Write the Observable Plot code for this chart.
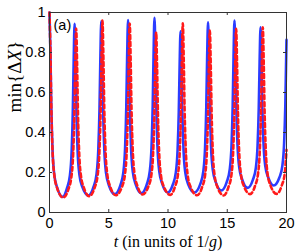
<!DOCTYPE html>
<html><head><meta charset="utf-8">
<script src="https://cdn.jsdelivr.net/npm/d3@7"></script>
<script src="https://cdn.jsdelivr.net/npm/@observablehq/plot@0.6"></script>
<style>body{margin:0;background:#fff} svg{display:block}</style>
</head><body><div id="chart"></div>
<script>
const xTicks = [0, 5, 10, 15, 20];
const yTicks = [0, 0.2, 0.4, 0.6, 0.8, 1];
const panelLabel = "(a)";
const xLabel = "t (in units of 1/g)";
const yLabel = "min{ΔX}";

const blueT = [
0,0.08,0.15,0.25,0.4,0.65,1.1,1.47,1.72,1.87,1.97,2.04,
2.12,2.2,2.27,2.37,2.52,2.77,3.27,3.72,3.97,4.12,4.22,4.29,
4.37,4.45,4.52,4.62,4.77,5.02,5.5,5.98,6.23,6.38,6.48,6.55,
6.63,6.71,6.78,6.88,7.03,7.28,7.75,8.21,8.46,8.61,8.71,8.78,
8.86,8.94,9.01,9.11,9.26,9.51,9.97,10.41,10.66,10.81,10.91,10.98,
11.06,11.14,11.21,11.31,11.46,11.71,12.23,12.73,12.98,13.13,13.23,13.3,
13.38,13.46,13.53,13.63,13.78,14.03,14.5,14.96,15.21,15.36,15.46,15.53,
15.61,15.69,15.76,15.86,16.01,16.26,16.72,17.16,17.41,17.56,17.66,17.73,
17.81,17.89,17.96,18.06,18.21,18.46,18.92,19.4,19.65,19.8,19.9,20];
const blueV = [
1,0.797,0.539,0.322,0.191,0.124,0.078,0.121,0.184,0.307,0.511,0.753,
0.943,0.754,0.514,0.312,0.191,0.128,0.085,0.129,0.192,0.316,0.521,0.764,
0.956,0.766,0.524,0.321,0.198,0.135,0.092,0.136,0.199,0.323,0.527,0.771,
0.962,0.772,0.53,0.326,0.203,0.14,0.097,0.141,0.205,0.329,0.535,0.78,
0.973,0.781,0.537,0.331,0.207,0.144,0.1,0.14,0.199,0.314,0.503,0.729,
0.906,0.729,0.503,0.314,0.199,0.14,0.1,0.143,0.205,0.326,0.526,0.764,
0.951,0.766,0.531,0.333,0.213,0.152,0.11,0.153,0.215,0.335,0.535,0.773,
0.96,0.776,0.542,0.345,0.226,0.165,0.123,0.163,0.222,0.336,0.525,0.749,
0.926,0.752,0.531,0.345,0.232,0.175,0.135,0.175,0.233,0.347,0.535,0.863];

const redT = [
0,0.08,0.15,0.25,0.4,0.65,1.15,1.6,1.85,2.0,2.1,2.17,
2.25,2.33,2.4,2.5,2.65,2.9,3.35,3.82,4.07,4.22,4.32,4.39,
4.47,4.55,4.62,4.72,4.87,5.12,5.6,6.12,6.37,6.52,6.62,6.69,
6.77,6.85,6.92,7.02,7.17,7.42,7.85,8.35,8.6,8.75,8.85,8.92,
9.0,9.08,9.15,9.25,9.4,9.65,10.2,10.6,10.85,11.0,11.1,11.17,
11.25,11.33,11.4,11.5,11.65,11.9,12.45,12.88,13.13,13.28,13.38,13.45,
13.53,13.61,13.68,13.78,13.93,14.18,14.7,15.1,15.35,15.5,15.6,15.67,
15.75,15.83,15.9,16.0,16.15,16.4,16.92,17.35,17.6,17.75,17.85,17.92,
18.0,18.08,18.15,18.25,18.4,18.65,19.17,19.6,19.85,20];
const redV = [
1,0.797,0.538,0.32,0.189,0.121,0.075,0.117,0.179,0.299,0.498,0.734,
0.92,0.736,0.501,0.304,0.185,0.124,0.082,0.126,0.19,0.315,0.521,0.767,
0.96,0.768,0.523,0.318,0.194,0.13,0.086,0.129,0.192,0.314,0.516,0.756,
0.945,0.757,0.518,0.317,0.195,0.133,0.09,0.131,0.19,0.305,0.495,0.722,
0.9,0.721,0.494,0.303,0.188,0.129,0.088,0.131,0.194,0.315,0.517,0.757,
0.946,0.757,0.516,0.314,0.192,0.129,0.086,0.127,0.187,0.304,0.498,0.729,
0.91,0.729,0.498,0.304,0.186,0.126,0.085,0.127,0.187,0.306,0.502,0.735,
0.918,0.736,0.505,0.311,0.194,0.133,0.092,0.134,0.195,0.313,0.509,0.743,
0.926,0.743,0.51,0.314,0.195,0.135,0.093,0.135,0.195,0.313];

const blue = blueT.map((t, i) => ({t, v: blueV[i]}));
const red = redT.map((t, i) => ({t, v: redV[i]}));

const serif = "'Liberation Serif', 'DejaVu Serif', serif";
const plot = Plot.plot({
  width: 300, height: 252,
  marginLeft: 49, marginRight: 14, marginTop: 12, marginBottom: 40,
  style: {fontFamily: "'Liberation Sans', Arial, sans-serif", fontSize: "14.5px", background: "#fff", color: "#000"},
  x: {domain: [0, 20]},
  y: {domain: [0, 1]},
  marks: [
    Plot.line(blue, {x: "t", y: "v", stroke: "#2b3cff", strokeWidth: 2.6, curve: "monotone-x"}),
    Plot.line(red, {x: "t", y: "v", stroke: "#ff1a1a", strokeWidth: 2.6, strokeDasharray: "4,3", curve: "monotone-x"}),
    Plot.frame({stroke: "#333", strokeWidth: 1}),
    Plot.tickX(xTicks, {insetTop: 197, stroke: "#333"}),
    Plot.tickX(xTicks, {insetBottom: 197, stroke: "#333"}),
    Plot.tickY(yTicks, {insetRight: 234, stroke: "#333"}),
    Plot.tickY(yTicks, {insetLeft: 234, stroke: "#333"}),
    Plot.axisX({ticks: xTicks, tickSize: 0, tickPadding: 5, label: null, fontSize: 14.5, tickFormat: d => `${d}`}),
    Plot.axisY({ticks: yTicks, tickSize: 0, tickPadding: 4, label: null, fontSize: 14.5, tickFormat: d => `${d}`}),
    Plot.text([panelLabel], {frameAnchor: "top-left", dx: 4, dy: 7, fontSize: 14.5}),
    Plot.text([xLabel], {frameAnchor: "bottom", dy: 34, lineAnchor: "bottom", fontSize: 16, fontFamily: serif}),
    Plot.text([yLabel], {frameAnchor: "left", dx: -29, rotate: -90, lineAnchor: "bottom", fontSize: 19, fontFamily: serif})
  ]
});
document.getElementById("chart").appendChild(plot);

d3.select(plot).selectAll("text").each(function() {
  const s = this.textContent;
  if (s === xLabel) {
    const el = d3.select(this); el.text("");
    el.append("tspan").attr("font-style", "italic").text("t");
    el.append("tspan").text(" (in units of 1/");
    el.append("tspan").attr("font-style", "italic").text("g");
    el.append("tspan").text(")");
  } else if (s === yLabel) {
    const el = d3.select(this); el.text("");
    el.append("tspan").text("min{Δ");
    el.append("tspan").attr("font-style", "italic").text("X");
    el.append("tspan").text("}");
  }
});
</script>
</body></html>
